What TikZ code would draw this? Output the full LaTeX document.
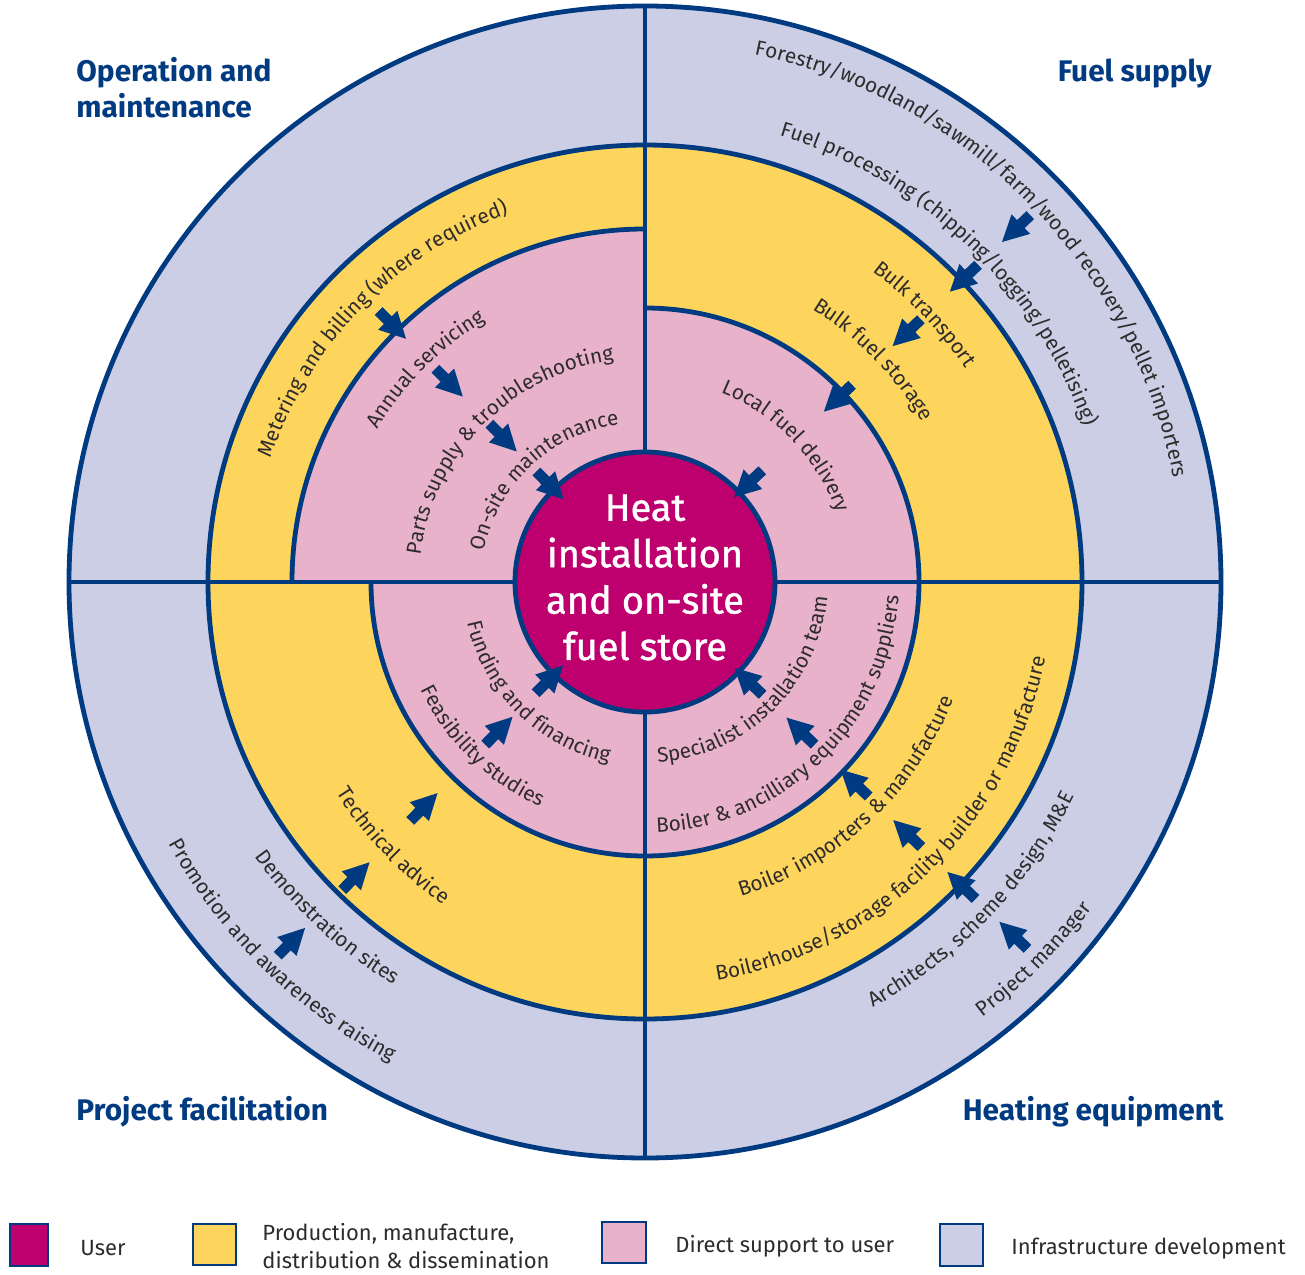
\documentclass[tikz,border=0pt]{standalone}
\usepackage{fontspec}
\setmainfont{Fira Sans}
\newfontfamily\cfont[FakeBold=1.2]{Fira Sans}
\usetikzlibrary{decorations.text}
\definecolor{lav}{HTML}{CBCEE4}
\definecolor{yel}{HTML}{FED55C}
\definecolor{pnk}{HTML}{E8B2CA}
\definecolor{mag}{HTML}{BE006E}
\definecolor{navy}{HTML}{003A80}
\definecolor{txt}{HTML}{2E2B2C}
\newcommand\lbl{\fontsize{10.4}{12}\selectfont}
\newcommand\arclabel[5]{%
  \pgfmathsetmacro\aS{#1-0.3*(#2-#1)}%
  \pgfmathsetmacro\aE{#2+0.3*(#2-#1)}%
  \path[decorate,decoration={text along path,text align=center,text color=txt,text={|\lbl|#5}}]
    plot[domain=\aS:\aE,samples=60,variable=\t] ({\t}:{#3+(#4-#3)*(\t-(#1))/((#2)-(#1))});%
}
\newcommand\inarrow[2]{%
  \fill[navy,shift={(#1:#2)},rotate=#1] (0,0) -- (26,13.5) -- (26,5.5) -- (39,5.5) -- (39,-5.5) -- (26,-5.5) -- (26,-13.5) -- cycle;%
}
\tikzset{
  ring/.style={draw=navy,line width=2.4pt},
  sep/.style={draw=navy,line width=2.4pt},
  title/.style={text=navy,font=\fontsize{14.9}{17}\selectfont\bfseries,inner sep=0pt},
  legtext/.style={text=txt,font=\fontsize{11}{14}\selectfont,inner sep=0pt,align=left},
  legbox/.style={draw=navy,line width=1.2pt}
}
\begin{document}
\begin{tikzpicture}[x=0.5pt,y=0.5pt]
\fill[white] (-645,-692) rectangle (660,582);
\useasboundingbox (-645,-692) rectangle (660,582);
% rings
\fill[lav] (0,0) circle[radius=576];
\fill[yel] (0,0) circle[radius=437];
\fill[pnk] (0,0) -- (0:274) arc[start angle=0,end angle=90,radius=274] -- cycle;
\fill[pnk] (0,0) -- (90:353) arc[start angle=90,end angle=180,radius=353] -- cycle;
\fill[pnk] (0,0) -- (180:274) arc[start angle=180,end angle=360,radius=274] -- cycle;
\draw[ring] (0,0) circle[radius=576];
\draw[ring] (0,0) circle[radius=437];
\draw[ring] (0:274) arc[start angle=0,end angle=90,radius=274];
\draw[ring] (90:353) arc[start angle=90,end angle=180,radius=353];
\draw[ring] (180:274) arc[start angle=180,end angle=360,radius=274];
\draw[sep] (0,-576) -- (0,576);
\draw[sep] (-576,0) -- (576,0);
\filldraw[fill=mag,draw=navy,line width=2.4pt] (0,0) circle[radius=130];
% arrows
\inarrow{134.5}{341}\inarrow{134.5}{260}\inarrow{134.5}{183}\inarrow{134.5}{116}
\inarrow{43.6}{493}\inarrow{43.6}{421}\inarrow{43.6}{342}\inarrow{43.6}{247}\inarrow{43.6}{123}
\inarrow{-43.8}{124}\inarrow{-43.8}{196}\inarrow{-43.8}{271}\inarrow{-43.8}{344}\inarrow{-43.8}{419}\inarrow{-43.8}{491}
\inarrow{225.5}{117}\inarrow{225.5}{189}\inarrow{225.5}{296}\inarrow{225.5}{393}\inarrow{225.5}{485}
% labels: operation and maintenance
\arclabel{160.7}{111.3}{394}{393}{Metering and billing (where required)}
\arclabel{149.7}{121.9}{308}{306}{Annual servicing}
\arclabel{170.3}{100.6}{226}{224}{Parts supply {\&} troubleshooting}
\arclabel{165.7}{102.2}{164}{160}{On-site maintenance}
% fuel supply
\arclabel{77.2}{12.2}{539}{539}{Forestry/woodland/sawmill/farm/wood recovery/pellet importers}
\arclabel{72.3}{20.4}{466}{466}{Fuel processing (chipping/logging/pelletising)}
\arclabel{52.5}{35}{385}{385}{Bulk transport}
\arclabel{57.2}{31.2}{320}{320}{Bulk fuel storage}
\arclabel{65.9}{22}{204}{204}{Local fuel delivery}
% heating equipment
\arclabel{-85.2}{-5.7}{181}{183}{Specialist installation team}
\arclabel{-87.2}{-3.7}{251}{254}{Boiler {\&} ancilliary equipment suppliers}
\arclabel{-72.5}{-21.3}{329}{330}{Boiler importers {\&} manufacture}
\arclabel{-78.4}{-12.2}{405}{408}{Boilerhouse/storage facility builder or manufacture}
\arclabel{-61.2}{-27}{483}{480}{Architects, scheme design, M{\&}E}
\arclabel{-52}{-36.3}{551}{553}{Project manager}
% project facilitation
\arclabel{191.5}{259.6}{182}{184}{Funding and financing}
\arclabel{206.4}{244.3}{249}{248}{Feasibility studies}
\arclabel{214.9}{237.3}{374}{380}{Technical advice}
\arclabel{215.7}{237.5}{477}{475}{Demonstration sites}
\arclabel{209.5}{241.4}{544}{543}{Promotion and awareness raising}
% centre
\node[text=white,align=center,inner sep=0pt,font=\cfont\fontsize{19}{23.2}\selectfont] (user) at (0,4.5) {Heat\\installation\\and on-site\\fuel store};
% titles
\node[title,anchor=base west] (om1) at (-569,500) {Operation and};
\node[title,anchor=base west] (om2) at (-569,464) {maintenance};
\node[title,anchor=base east] (fs) at (567,500) {Fuel supply};
\node[title,anchor=base west] (pf) at (-569,-538) {Project facilitation};
\node[title,anchor=base east] (he) at (579,-538) {Heating equipment};
% legend
\draw[legbox,fill=mag] (-635,-642) rectangle (-597,-684);
\draw[legbox,fill=yel] (-452,-642) rectangle (-409,-683);
\draw[legbox,fill=pnk] (-43,-640) rectangle (1,-681);
\draw[legbox,fill=lav] (295,-642) rectangle (338,-684);
\node[legtext,anchor=west] (l1) at (-565,-666) {User};
\node[legtext,anchor=west] (l2) at (-383,-664) {Production, manufacture,\\distribution \& dissemination};
\node[legtext,anchor=west] (l3) at (30,-664) {Direct support to user};
\node[legtext,anchor=west] (l4) at (366,-667) {Infrastructure development};
\end{tikzpicture}
\end{document}
